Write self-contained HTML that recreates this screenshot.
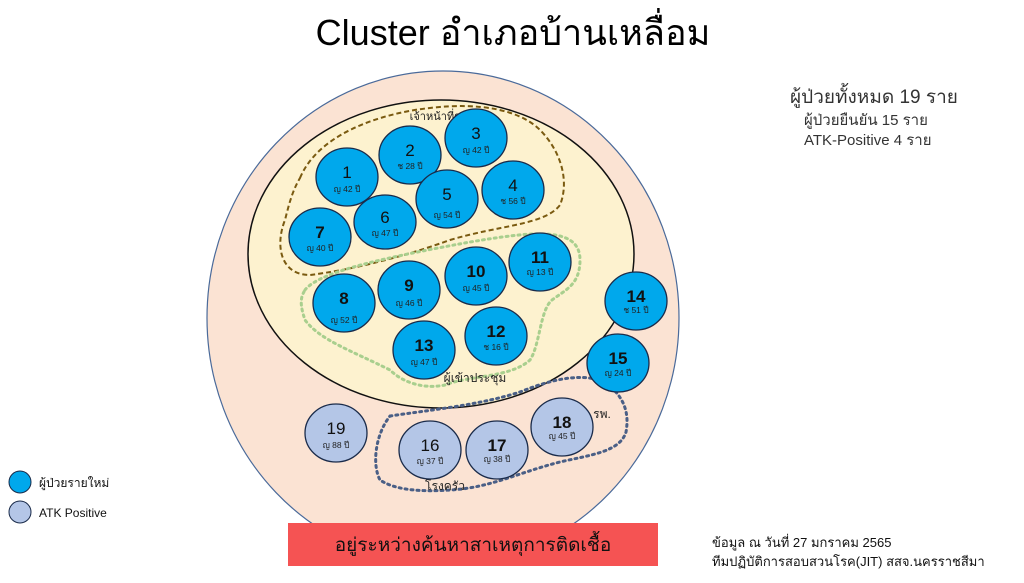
<!DOCTYPE html>
<html><head><meta charset="utf-8"><style>
html,body{margin:0;padding:0;background:#fff;width:1024px;height:583px;overflow:hidden}
svg{display:block;font-family:"Liberation Sans","DejaVu Sans",sans-serif}
</style></head><body>
<svg width="1024" height="583" viewBox="0 0 1024 583" xmlns="http://www.w3.org/2000/svg">
<text x="513" y="45" font-size="36" text-anchor="middle" fill="#000">Cluster อำเภอบ้านเหลื่อม</text>
<text x="790" y="103" font-size="19" fill="#333">ผู้ป่วยทั้งหมด 19 ราย</text>
<text x="804" y="125" font-size="15" fill="#333">ผู้ป่วยยืนยัน 15 ราย</text>
<text x="804" y="145" font-size="15" fill="#333">ATK-Positive 4 ราย</text>

<ellipse cx="443" cy="318" rx="236" ry="247" fill="#fbe3d3" stroke="#4a6a9a" stroke-width="1.2"/>
<ellipse cx="441" cy="254" rx="193" ry="154" fill="#fdf2cf" stroke="#111" stroke-width="1.5"/>

<path d="M300,178 C320,130 390,112 430,108 C480,102 520,110 540,130 C560,150 570,180 560,205 C545,225 500,225 450,240 C400,258 350,270 310,275 C280,275 275,245 285,220 C290,200 293,190 300,178 Z" fill="none" stroke="#7a5a10" stroke-width="2" stroke-dasharray="5,3"/>
<path d="M305,290 C320,270 400,255 470,242 C530,232 580,225 580,260 C580,285 565,290 552,300 C540,310 540,345 530,360 C510,378 470,375 445,385 C420,390 400,380 390,370 C350,350 320,340 305,320 C300,305 300,298 305,290 Z" fill="none" stroke="#a9cf8e" stroke-width="3" stroke-dasharray="2,4" stroke-linecap="round"/>
<path d="M390,416 C430,410 480,405 520,392 C550,380 580,372 605,382 C622,395 630,410 626,432 C620,452 590,455 560,462 C520,472 490,488 450,490 C420,492 395,490 380,480 C372,465 375,435 390,416 Z" fill="none" stroke="#4a5f86" stroke-width="3" stroke-dasharray="2,4" stroke-linecap="round"/>

<text x="440" y="120" font-size="11" text-anchor="middle" fill="#222">เจ้าหน้าที่รพ.</text>
<text x="475" y="382" font-size="12" text-anchor="middle" fill="#222">ผู้เข้าประชุม</text>
<text x="602" y="418" font-size="12" text-anchor="middle" fill="#222">รพ.</text>
<text x="445" y="490" font-size="12" text-anchor="middle" fill="#222">โรงครัว</text>

<g stroke="#1a2b4a" stroke-width="1.3" fill="#00a8ec">
<ellipse cx="347" cy="177" rx="31" ry="29"/>
<ellipse cx="410" cy="155" rx="31" ry="29"/>
<ellipse cx="476" cy="138" rx="31" ry="29"/>
<ellipse cx="513" cy="190" rx="31" ry="29"/>
<ellipse cx="447" cy="199" rx="31" ry="29"/>
<ellipse cx="385" cy="222" rx="31" ry="27"/>
<ellipse cx="320" cy="237" rx="31" ry="29"/>
<ellipse cx="344" cy="303" rx="31" ry="29"/>
<ellipse cx="409" cy="290" rx="31" ry="29"/>
<ellipse cx="476" cy="276" rx="31" ry="29"/>
<ellipse cx="540" cy="262" rx="31" ry="29"/>
<ellipse cx="496" cy="336" rx="31" ry="29"/>
<ellipse cx="424" cy="350" rx="31" ry="29"/>
<ellipse cx="636" cy="301" rx="31" ry="29"/>
<ellipse cx="618" cy="363" rx="31" ry="29"/>
</g>
<g stroke="#1a2b4a" stroke-width="1.3" fill="#b4c6e7">
<ellipse cx="430" cy="450" rx="31" ry="29"/>
<ellipse cx="497" cy="450" rx="31" ry="29"/>
<ellipse cx="562" cy="427" rx="31" ry="29"/>
<ellipse cx="336" cy="433" rx="31" ry="29"/>
</g>

<g font-size="17" text-anchor="middle" fill="#111">
<text x="347" y="178">1</text><text x="410" y="156">2</text><text x="476" y="139">3</text>
<text x="513" y="191">4</text><text x="447" y="200">5</text><text x="385" y="223">6</text>
<text x="320" y="238" font-weight="bold">7</text><text x="344" y="304" font-weight="bold">8</text>
<text x="409" y="291" font-weight="bold">9</text><text x="476" y="277" font-weight="bold">10</text>
<text x="540" y="263" font-weight="bold">11</text><text x="496" y="337" font-weight="bold">12</text>
<text x="424" y="351" font-weight="bold">13</text><text x="636" y="302" font-weight="bold">14</text>
<text x="618" y="364" font-weight="bold">15</text><text x="430" y="451">16</text>
<text x="497" y="451" font-weight="bold">17</text><text x="562" y="428" font-weight="bold">18</text>
<text x="336" y="434">19</text>
</g>
<g font-size="8.5" text-anchor="middle" fill="#222">
<text x="347" y="192">ญ 42 ปี</text><text x="410" y="169">ช 28 ปี</text><text x="476" y="153">ญ 42 ปี</text>
<text x="513" y="204">ช 56 ปี</text><text x="447" y="218">ญ 54 ปี</text><text x="385" y="236">ญ 47 ปี</text>
<text x="320" y="251">ญ 40 ปี</text><text x="344" y="323">ญ 52 ปี</text><text x="409" y="306">ญ 46 ปี</text>
<text x="476" y="291">ญ 45 ปี</text><text x="540" y="275">ญ 13 ปี</text><text x="496" y="350">ช 16 ปี</text>
<text x="424" y="365">ญ 47 ปี</text><text x="636" y="313">ช 51 ปี</text><text x="618" y="376">ญ 24 ปี</text>
<text x="430" y="464">ญ 37 ปี</text><text x="497" y="462">ญ 38 ปี</text><text x="562" y="439">ญ 45 ปี</text>
<text x="336" y="448">ญ 88 ปี</text>
</g>

<circle cx="20" cy="482" r="11" fill="#00a8ec" stroke="#1a2b4a" stroke-width="1"/>
<circle cx="20" cy="512" r="11" fill="#b4c6e7" stroke="#1a2b4a" stroke-width="1"/>
<text x="39" y="487" font-size="12" fill="#111">ผู้ป่วยรายใหม่</text>
<text x="39" y="517" font-size="12" fill="#111">ATK Positive</text>

<rect x="288" y="523" width="370" height="43" fill="#f55353"/>
<text x="473" y="551" font-size="19" text-anchor="middle" fill="#111">อยู่ระหว่างค้นหาสาเหตุการติดเชื้อ</text>

<text x="712" y="547" font-size="13" fill="#111">ข้อมูล ณ วันที่ 27 มกราคม 2565</text>
<text x="712" y="566" font-size="13" fill="#111">ทีมปฏิบัติการสอบสวนโรค(JIT) สสจ.นครราชสีมา</text>
</svg>
</body></html>
